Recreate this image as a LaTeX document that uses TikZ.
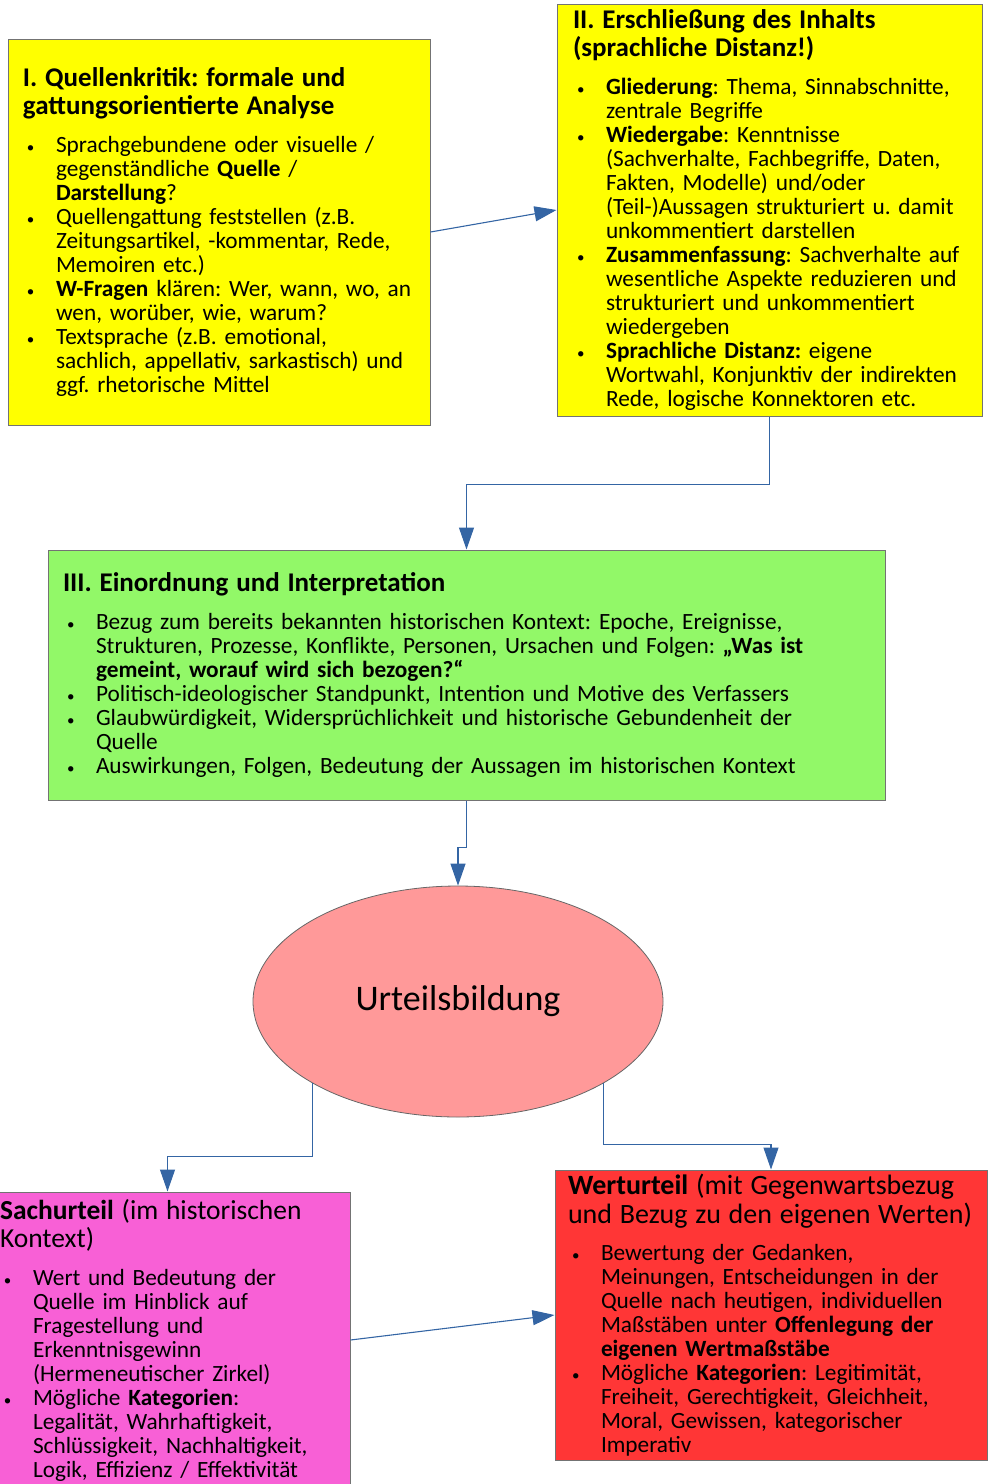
\documentclass[tikz,border=0pt]{standalone}
\usepackage{fontspec}
\setmainfont{Carlito}
\usepackage{enumitem}
\usetikzlibrary{arrows.meta,shapes.geometric}
\definecolor{gelb}{RGB}{255,255,0}
\definecolor{gruen}{RGB}{146,248,104}
\definecolor{lachs}{RGB}{255,153,153}
\definecolor{rosa}{RGB}{248,96,214}
\definecolor{rot}{RGB}{255,54,54}
\definecolor{pfeilblau}{RGB}{52,101,164}
\newcommand{\boxtext}{\fontsize{23.3}{24}\selectfont}
\newcommand{\boxhead}{\fontsize{27}{28}\selectfont}
\setlist[itemize]{label={\fontsize{15}{15}\selectfont\textbullet},leftmargin=33pt,labelindent=4pt,labelwidth=8pt,labelsep=*,align=left,topsep=0pt,partopsep=0pt,itemsep=0pt,parsep=0pt}
\frenchspacing
\begin{document}
\begin{tikzpicture}[x=1pt,y=-1pt]
\tikzstyle{kasten} = [draw=black!55,line width=1pt,inner ysep=2pt,font=\boxtext]
\tikzstyle{pfeil} = [pfeilblau,line width=1.1pt,arrows={-Triangle[length=22pt,width=15pt]}]
\useasboundingbox (0,0) rectangle (992,1484);
  %analyse
  \node[kasten,fill=gelb,minimum width=422pt,minimum height=386pt,inner xsep=15pt,text width=392pt] (kritik) at (219,232) {%
    {\boxhead\bfseries I. Quellenkritik: formale und\\ gattungsorientierte Analyse\par}\vspace{14pt}
    \begin{itemize}
    \item Sprachgebundene oder visuelle /\\ gegenständliche \textbf{Quelle} /\\ \textbf{Darstellung}?
    \item Quellengattung feststellen (z.B.\\ Zeitungsartikel, -kommentar, Rede,\\ Memoiren etc.)
    \item \textbf{W-Fragen} klären: Wer, wann, wo, an\\ wen, worüber, wie, warum?
    \item Textsprache (z.B. emotional,\\ sachlich, appellativ, sarkastisch) und\\ ggf. rhetorische Mittel
    \end{itemize}};
  \node[kasten,fill=gelb,minimum width=425pt,minimum height=412pt,inner xsep=16pt,text width=393pt] (inhalt) at (769.5,210) {%
    {\boxhead\bfseries II. Erschließung des Inhalts\\ (sprachliche Distanz!)\par}\vspace{14pt}
    \begin{itemize}
    \item \textbf{Gliederung}: Thema, Sinnabschnitte,\\ zentrale Begriffe
    \item \textbf{Wiedergabe}: Kenntnisse\\ (Sachverhalte, Fachbegriffe, Daten,\\ Fakten, Modelle) und/oder\\ (Teil-)Aussagen strukturiert u. damit\\ unkommentiert darstellen
    \item \textbf{Zusammenfassung}: Sachverhalte auf\\ wesentliche Aspekte reduzieren und\\ strukturiert und unkommentiert\\ wiedergeben
    \item \textbf{Sprachliche Distanz:} eigene\\ Wortwahl, Konjunktiv der indirekten\\ Rede, logische Konnektoren etc.
    \end{itemize}};
  %interpretation
  \node[kasten,fill=gruen,minimum width=837pt,minimum height=250pt,inner xsep=15pt,text width=807pt] (einordnung) at (466.5,675) {%
    {\boxhead\bfseries III. Einordnung und Interpretation\par}\vspace{14pt}
    \begin{itemize}
    \item Bezug zum bereits bekannten historischen Kontext: Epoche, Ereignisse,\\ Strukturen, Prozesse, Konflikte, Personen, Ursachen und Folgen: \textbf{„Was ist\\ gemeint, worauf wird sich bezogen?“}
    \item Politisch-ideologischer Standpunkt, Intention und Motive des Verfassers
    \item Glaubwürdigkeit, Widersprüchlichkeit und historische Gebundenheit der\\ Quelle
    \item Auswirkungen, Folgen, Bedeutung der Aussagen im historischen Kontext
    \end{itemize}};
  %urteil
  \node[draw=black!60,line width=0.8pt,ellipse,fill=lachs,minimum width=410pt,minimum height=231pt,font=\fontsize{36}{40}\selectfont] (urteil) at (458,1001.5) {Urteilsbildung};
    \node[kasten,fill=rosa,minimum width=365pt,minimum height=296pt,inner xsep=15pt,text width=335pt] (sachurteil) at (167.5,1340) {%
      {\fontsize{27.5}{28}\selectfont\textbf{Sachurteil} (im historischen\\ Kontext)\par}\vspace{14pt}
      \begin{itemize}
      \item Wert und Bedeutung der\\ Quelle im Hinblick auf\\ Fragestellung und\\ Erkenntnisgewinn\\ (Hermeneutischer Zirkel)
      \item Mögliche \textbf{Kategorien}:\\ Legalität, Wahrhaftigkeit,\\ Schlüssigkeit, Nachhaltigkeit,\\ Logik, Effizienz / Effektivität
      \end{itemize}};
    \node[kasten,fill=rot,minimum width=432pt,minimum height=290pt,inner xsep=13pt,text width=406pt] (werturteil) at (771,1315) {%
      {\fontsize{28}{29}\selectfont\textbf{Werturteil} (mit Gegenwartsbezug\\ und Bezug zu den eigenen Werten)\par}\vspace{13pt}
      \begin{itemize}
      \item Bewertung der Gedanken,\\ Meinungen, Entscheidungen in der\\ Quelle nach heutigen, individuellen\\ Maßstäben unter \textbf{Offenlegung der\\ eigenen Wertmaßstäbe}
      \item Mögliche \textbf{Kategorien}: Legitimität,\\ Freiheit, Gerechtigkeit, Gleichheit,\\ Moral, Gewissen, kategorischer\\ Imperativ
      \end{itemize}};
  %arrows
  \draw[pfeil] (kritik.east) -- (inhalt.west);
  \draw[pfeil] (inhalt.south) -- ++(0,68) -| (einordnung.north);
  \draw[pfeil] (einordnung.south) -- ++(0,47) -| (urteil.north);
  \draw[pfeil] (urteil.south west) -- ++(0,73) -| (sachurteil.north);
  \draw[pfeil] (urteil.south east) -- ++(0,61) -| (werturteil.north);
  \draw[pfeil] (sachurteil.east) -- (werturteil.west);
\end{tikzpicture}
\end{document}
